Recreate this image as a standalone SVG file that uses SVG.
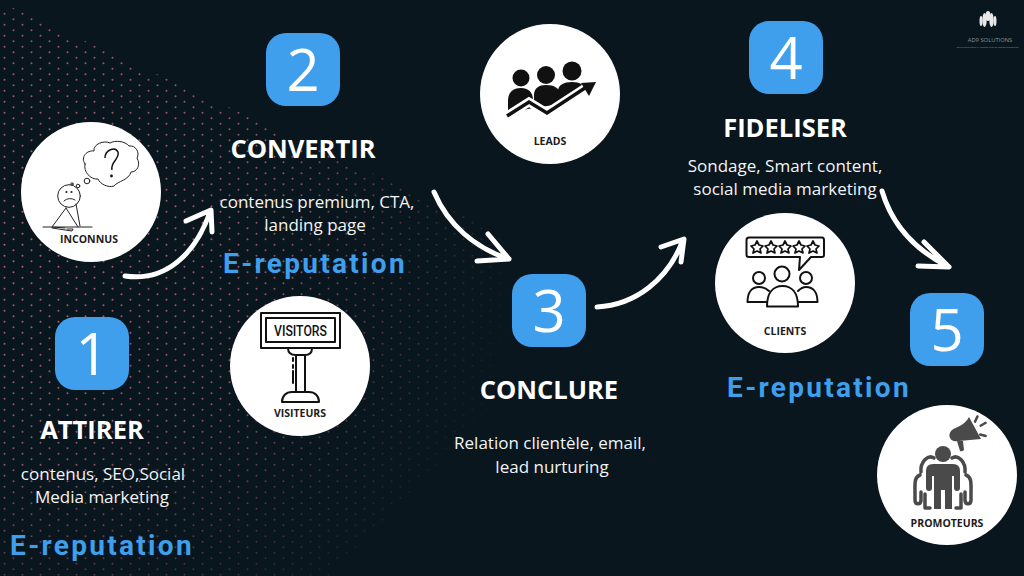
<svg xmlns="http://www.w3.org/2000/svg" width="1024" height="576" viewBox="0 0 1024 576">
<style>
text{font-family:"Open Sans","Liberation Sans",sans-serif;text-anchor:middle}
.disc{fill:#fff}
.sq{fill:#3f9fec}
.num{fill:#fff;font-size:58px;font-weight:400}
.title{fill:#fff;font-size:25.500px;font-weight:700}
.desc{fill:#f2f4f5;font-size:17px}
.rep{fill:#3f9fec;font-family:Roboto,"Liberation Sans",sans-serif;font-size:28px;font-weight:700;letter-spacing:2.300px}
.lab{fill:#1c1c1c;font-size:10.500px;font-weight:700}
.arrow{fill:none;stroke:#fff;stroke-width:5;stroke-linecap:round;stroke-linejoin:round}
.ink{fill:none;stroke:#111;stroke-width:2;stroke-linejoin:round;stroke-linecap:round}
.thin{fill:none;stroke:#222;stroke-width:1;stroke-linecap:round;stroke-linejoin:round}
.prom{fill:none;stroke:#4a4a4a;stroke-width:3.500;stroke-linecap:round;stroke-linejoin:round}
</style>
<defs>
<pattern id="dots" width="18" height="11" patternUnits="userSpaceOnUse">
<circle cx="4.500" cy="2.750" r="1" fill="#b5607a"/><circle cx="13.500" cy="8.250" r="1" fill="#b5607a"/>
</pattern>
<radialGradient id="fade" gradientUnits="userSpaceOnUse" cx="40" cy="220" r="500">
<stop offset="0" stop-color="#fff" stop-opacity="1"/><stop offset=".5" stop-color="#fff" stop-opacity=".8"/><stop offset=".8" stop-color="#fff" stop-opacity=".3"/><stop offset="1" stop-color="#fff" stop-opacity="0"/>
</radialGradient>
<clipPath id="wedge"><path d="M0 2L500 232L500 400L330 576H0Z"/></clipPath>
<mask id="dotmask"><rect width="1024" height="576" fill="url(#fade)"/></mask>
</defs>
<rect width="1024" height="576" fill="#09161d"/>
<g clip-path="url(#wedge)"><rect width="1024" height="576" fill="url(#dots)" mask="url(#dotmask)"/></g>

<g id="logo" fill="#e8e8e8">
<ellipse cx="984.500" cy="20" rx="2.200" ry="7"/><ellipse cx="988" cy="16" rx="2.500" ry="5"/><ellipse cx="991.500" cy="20" rx="2.200" ry="7"/><ellipse cx="981" cy="21" rx="1.500" ry="5"/><ellipse cx="995" cy="21" rx="1.500" ry="5"/>
<text x="990" y="42" style="font-size:5.800px;fill:#8d9499">AD9 SOLUTIONS</text>
<text x="987.500" y="47.500" style="font-size:2.300px;fill:#8d9499">SOLUTIONS POUR LA CROISSANCE DE VOTRE ENTREPRISE</text>
</g>

<g id="connectors">
<path class="arrow" d="M125 276C165 282 195 255 210 212M186 221L211 210L212 232"/>
<path class="arrow" d="M434 192C448 225 475 248 509 259M488 234L509 259L477 261"/>
<path class="arrow" d="M597 307C635 305 668 280 683 240M661 247L684 239L681 262"/>
<path class="arrow" d="M882 191C892 225 915 250 949 267M924 242L949 267L918 266"/>
</g>

<g id="node-inconnus">
<circle class="disc" cx="91" cy="192" r="70"/>
<path class="thin" d="M85 164C80 157 87 150 94 151C93 144 104 140 110 143C115 140 125 141 129 146C136 145 140 153 137 158C141 165 137 172 131 172C129 180 118 181 114 186C108 188 100 184 98 179C91 180 83 172 85 164Z"/>
<path d="M105 158C105 150 115 146 118 152C120 159 110 162 112 170" fill="none" stroke="#111" stroke-width="1.500"/><circle cx="111.500" cy="176" r="1.400" fill="#111"/>
<circle class="thin" cx="87" cy="181" r="2.800"/><circle class="thin" cx="78" cy="186" r="1.800"/><circle class="thin" cx="72" cy="184" r="1.200"/>
<circle class="thin" cx="69" cy="196" r="11.300"/>
<path class="thin" d="M66 208L52 227L65 228M66 208L78 227M76 204L80 226M43 227H92M52 228L72 231L73 229L67 229"/>
<circle cx="66.500" cy="192" r="1.100" fill="#222"/><circle cx="71.500" cy="192" r="1.100" fill="#222"/><path class="thin" d="M64 201C67 198 72 198 75 200"/>
<text class="lab" x="89" y="243">INCONNUS</text>
</g>

<g id="node-visiteurs">
<circle class="disc" cx="300" cy="366" r="70"/>
<rect class="ink" x="261" y="313" width="79" height="35"/>
<rect class="ink" x="266" y="318" width="69" height="24"/>
<text x="300.500" y="336" textLength="53" lengthAdjust="spacingAndGlyphs" style="font-family:'Roboto','Liberation Sans',sans-serif;font-size:15.500px;font-weight:500;fill:#111">VISITORS</text>
<path class="ink" d="M288 348C288 353 291 355 296 355H305C309 355 312 353 312 348M296 355V392M305 355V392M282 402C282 396 286 392 292 392H309C315 392 319 396 319 402ZM293 358V361M293 365V368M293 371V383"/>
<text class="lab" x="300" y="417">VISITEURS</text>
</g>

<g id="node-leads">
<circle class="disc" cx="550" cy="94" r="70"/>
<g fill="#111">
<circle cx="572" cy="71" r="9.500"/><circle cx="546" cy="75" r="9"/><circle cx="521" cy="78" r="8.500"/>
<path d="M558 100V91C558 85 564 82 572 82C580 82 585 85 585 91Z"/>
<path d="M534 108V95C534 88 539 85 546 85C554 85 560 88 560 95V104Z"/>
<path d="M508 113V101C508 92 513 88 521 88C528 88 533 92 533 100V108Z"/>
</g>
<path d="M507 116L529 102L547 113L590 85" fill="none" stroke="#fff" stroke-width="9"/>
<path d="M507 116L529 102L547 113L588 86" fill="none" stroke="#111" stroke-width="3.500"/>
<path d="M596 82L581 83L589 96Z" fill="#111"/>
<text class="lab" x="550" y="145">LEADS</text>
</g>

<g id="node-clients">
<circle class="disc" cx="785" cy="283" r="70"/>
<path class="ink" d="M749 237.500H822Q824 237.500 824 240V255Q824 257 822 257H811L799 270L800 257H749Q746.500 257 746.500 255V240Q746.500 237.500 749 237.500Z"/>
<g fill="none" stroke="#111" stroke-width="1.700" stroke-linejoin="round">
<path d="M757 241L759 245L763 246L760 249L761 253L757 251L753 253L754 249L751 246L755 245Z"/>
<path d="M771 241L773 245L777 246L774 249L775 253L771 251L767 253L768 249L765 246L769 245Z"/>
<path d="M785 241L787 245L791 246L788 249L789 253L785 251L781 253L782 249L779 246L783 245Z"/>
<path d="M799 241L801 245L805 246L802 249L803 253L799 251L795 253L796 249L793 246L797 245Z"/>
<path d="M813 241L815 245L819 246L816 249L817 253L813 251L809 253L810 249L807 246L811 245Z"/>
</g>
<circle class="ink" cx="759" cy="278" r="6"/><circle class="ink" cx="782" cy="274" r="7.500"/><circle class="ink" cx="806" cy="278" r="6"/>
<path class="ink" d="M767 302H747.500C747.500 292 752 287 759 287C763 287 767 289 769 291M798 291C800 289 803 287 806 287C813 287 817.500 292 817.500 302H799"/>
<path class="ink" d="M767 306.500C767 293 773 286 782.500 286C792 286 798 293 798 306.500Z"/>
<text class="lab" x="785" y="335">CLIENTS</text>
</g>

<g id="node-promoteurs">
<circle class="disc" cx="947" cy="475" r="70"/>
<g fill="#4a4a4a">
<circle cx="943" cy="454" r="8"/>
<path d="M933 464H953Q960 464 960 471V488Q960 491 957 491Q954 491 954 488V476H952V509H945V490H941V509H934V476H932V488Q932 491 929 491Q926 491 926 488V471Q926 464 933 464Z"/>
<path d="M969 417L981 439L959 441L958 441C951 443 947 436 951 431C954 427 964 427 969 417Z"/>
<path d="M957 441L963 441L964 450Q962 452 960 451Z"/>
<rect x="975" y="415" width="2.500" height="8" rx="1" transform="rotate(25 976 419)"/><rect x="982" y="420" width="2.500" height="8" rx="1" transform="rotate(60 983 424)"/><rect x="982" y="431" width="2.500" height="8" rx="1" transform="rotate(105 983 435)"/>
</g>
<path class="prom" d="M921 472C920 462 928 454 934 458M965 472C966 462 958 454 952 458M920 475C914 477 915 484 915 494V500C915 505 921 505 921 500V492M966 475C972 477 971 484 971 494V500C971 505 965 505 965 500V492M925 494V508H930M961 494V508H956"/>
<text class="lab" x="947" y="527">PROMOTEURS</text>
</g>

<g id="step-1"><rect class="sq" x="55" y="317" width="74" height="73" rx="20"/><text class="num" x="92" y="375">1</text><text class="title" x="92" y="439">ATTIRER</text><text class="desc" x="103" y="480">contenus, SEO,Social</text><text class="desc" x="102" y="503">Media marketing</text><text class="rep" x="102" y="555">E-reputation</text></g>
<g id="step-2"><rect class="sq" x="266" y="33" width="74" height="73" rx="20"/><text class="num" x="303" y="91">2</text><text class="title" x="303" y="158">CONVERTIR</text><text class="desc" x="317" y="208">contenus premium, CTA,</text><text class="desc" x="315" y="231">landing page</text><text class="rep" x="315" y="273">E-reputation</text></g>
<g id="step-3"><rect class="sq" x="512" y="274" width="74" height="73" rx="20"/><text class="num" x="549" y="332">3</text><text class="title" x="549" y="399">CONCLURE</text><text class="desc" x="550" y="449">Relation clientèle, email,</text><text class="desc" x="552" y="473">lead nurturing</text></g>
<g id="step-4"><rect class="sq" x="749" y="21" width="74" height="73" rx="20"/><text class="num" x="786" y="79">4</text><text class="title" x="785" y="137">FIDELISER</text><text class="desc" x="785" y="172">Sondage, Smart content,</text><text class="desc" x="785" y="195">social media marketing</text><text class="rep" x="819" y="397">E-reputation</text></g>
<g id="step-5"><rect class="sq" x="910" y="293" width="74" height="73" rx="20"/><text class="num" x="947" y="351">5</text></g>
</svg>
